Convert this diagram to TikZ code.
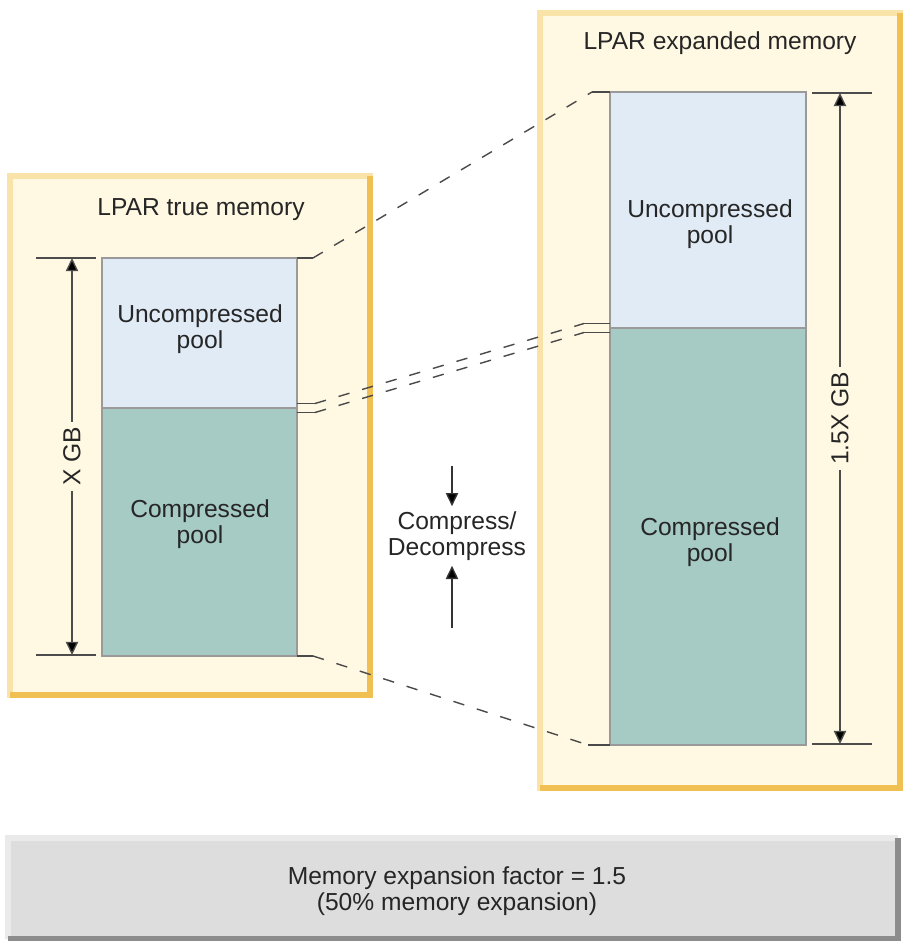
\documentclass[tikz,border=0pt]{standalone}
\usepackage{fontspec}
\setmainfont{Liberation Sans}
\usetikzlibrary{arrows.meta,calc}

\definecolor{cream}{HTML}{FFF8E2}
\definecolor{framelite}{HTML}{F9E3A8}
\definecolor{framedark}{HTML}{F0C152}
\definecolor{uncomp}{HTML}{E1EBF6}
\definecolor{comp}{HTML}{A6CAC4}
\definecolor{poolline}{HTML}{9A9A9A}
\definecolor{linkline}{HTML}{4A4A4A}
\definecolor{barfill}{HTML}{DDDDDD}
\definecolor{barlite}{HTML}{EAEAEA}
\definecolor{bardark}{HTML}{8C8C8C}

\tikzset{
  frame/.style={fill=cream, draw=framelite, line width=3.4pt},
  frameedge/.style={draw=framedark, line width=3.8pt},
  pool/.style={draw=poolline, line width=0.8pt, inner sep=0pt, outer sep=0pt, anchor=north west},
  lbl/.style={align=center, font=\fontsize{14}{14.5}\selectfont, text=black!85},
  dim/.style={draw=black!70, line width=0.8pt},
  dimarrow/.style={dim, {Triangle[length=7.5pt,width=7pt,fill=black]}-{Triangle[length=7.5pt,width=7pt,fill=black]}},
  flow/.style={draw=black!80, line width=0.8pt, -{Triangle[length=7.5pt,width=7pt,fill=black]}},
  stub/.style={draw=linkline, line width=0.8pt},
  link/.style={draw=linkline, line width=0.8pt, dash pattern=on 6.5pt off 7.5pt}
}

\begin{document}
\begin{tikzpicture}[x=0.02cm, y=-0.02cm]
\useasboundingbox (0,0) rectangle (913,941);

% frames
\draw[frame] (10,176) rectangle (370,695);
\draw[frameedge] (370,176) -- (370,695) -- (10,695);
\draw[frame] (540,13) rectangle (900,788);
\draw[frameedge] (900,13) -- (900,788) -- (540,788);

\node[lbl] (ltitle) at (201,210) {LPAR true memory};
\node[lbl] (rtitle) at (720,43) {LPAR expanded memory};

% true memory
\node[pool, fill=uncomp, minimum width=3.9cm, minimum height=3cm] (lunc) at (102,258) {};
\node[pool, fill=comp, minimum width=3.9cm, minimum height=4.96cm] (lcmp) at (102,408) {};
\node[lbl] (luncl) at (200,329) {Uncompressed\\pool};
\node[lbl] (lcmpl) at (200,524) {Compressed\\pool};

% expanded memory
\node[pool, fill=uncomp, minimum width=3.92cm, minimum height=4.72cm] (runc) at (610,92) {};
\node[pool, fill=comp, minimum width=3.92cm, minimum height=8.34cm] (rcmp) at (610,328) {};
\node[lbl] (runcl) at (710,224) {Uncompressed\\pool};
\node[lbl] (rcmpl) at (710,542) {Compressed\\pool};

% sizes
\draw[dim] (36,258) -- (96,258);
\draw[dim] (36,655) -- (96,655);
\draw[dimarrow] (72,258) -- (72,655) node[midway, fill=cream, rotate=90, inner sep=3pt, lbl] (xgb) {X GB};
\draw[dim] (812,93) -- (872,93);
\draw[dim] (812,744) -- (872,744);
\draw[dimarrow] (840,93) -- (840,744) node[midway, fill=cream, rotate=90, inner sep=3pt, lbl] (ygb) {1.5X GB};

% mapping lines
\draw[stub] (lunc.north east) -- ++(16,0) coordinate (lt);
\draw[stub] (runc.north west) -- ++(-18,0) coordinate (rt);
\draw[link] (lt) -- (rt);

\draw[stub] (lcmp.south east) -- ++(16,0) coordinate (lb);
\draw[stub] (rcmp.south west) -- ++(-22,0) coordinate (rb);
\draw[link] (lb) -- (rb);

\foreach \d/\n in {-4.5/a, 4.5/b} {
\draw[stub] ($(lcmp.north east)+(0,\d)$) -- ++(18,0) coordinate (lm\n);
\draw[stub] ($(rcmp.north west)+(0,\d)$) -- ++(-26,0) coordinate (rm\n);
\draw[link] (lm\n) -- (rm\n);
}

% compress / decompress
\node[lbl, inner sep=3pt] (cmp) at (457,536) {Compress/\\Decompress};
\coordinate (ctop) at (452,466);
\coordinate (cbot) at (452,628);
\draw[flow] (ctop) -- (ctop |- cmp.north);
\draw[flow] (cbot) -- (cbot |- cmp.south);

% factor bar
\fill[barfill] (8,838) rectangle (898,939);
\draw[draw=barlite, line width=3pt] (8,939) -- (8,838) -- (898,838);
\draw[draw=bardark, line width=3pt] (898,838) -- (898,939) -- (8,939);
\node[lbl] (factor) at (457,891) {Memory expansion factor = 1.5\\(50\% memory expansion)};

\end{tikzpicture}
\end{document}
